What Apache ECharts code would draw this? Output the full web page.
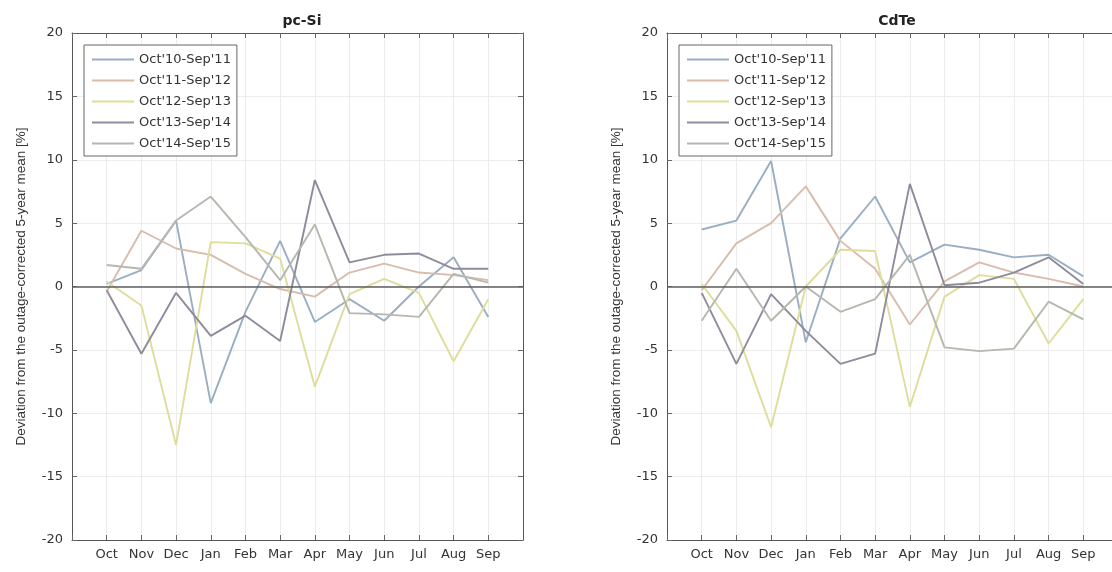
<!DOCTYPE html>
<html>
<head>
<meta charset="utf-8">
<script src="https://cdn.jsdelivr.net/npm/echarts@6/dist/echarts.min.js"></script>
<style>
  html, body { margin: 0; background: #fff; }
  #chart { width: 1112px; height: 572px; }
</style>
</head>
<body>
<div id="chart"></div>
<script>
// months on the x axis (positions 1..12, axis runs 0..13)
const months = ["Oct", "Nov", "Dec", "Jan", "Feb", "Mar", "Apr", "May", "Jun", "Jul", "Aug", "Sep"];
const seasons = ["Oct'10-Sep'11", "Oct'11-Sep'12", "Oct'12-Sep'13", "Oct'13-Sep'14", "Oct'14-Sep'15"];
const yTicks = [-20, -15, -10, -5, 0, 5, 10, 15, 20];

// pc-Si deviations [%]
const pcSi_10 = [0.2, 1.3, 5.2, -9.2, -2.0, 3.6, -2.8, -1.0, -2.7, 0.0, 2.3, -2.4];
const pcSi_11 = [-0.4, 4.4, 3.0, 2.5, 1.0, -0.2, -0.8, 1.1, 1.8, 1.1, 0.9, 0.5];
const pcSi_12 = [0.4, -1.5, -12.5, 3.5, 3.4, 2.2, -7.9, -0.6, 0.6, -0.5, -5.9, -1.0];
const pcSi_13 = [-0.3, -5.3, -0.5, -3.9, -2.3, -4.3, 8.4, 1.9, 2.5, 2.6, 1.4, 1.4];
const pcSi_14 = [1.7, 1.4, 5.2, 7.1, 3.9, 0.5, 4.9, -2.1, -2.2, -2.4, 1.0, 0.3];

// CdTe deviations [%]
const cdte_10 = [4.5, 5.2, 9.9, -4.4, 3.8, 7.1, 1.9, 3.3, 2.9, 2.3, 2.5, 0.8];
const cdte_11 = [-0.3, 3.4, 5.0, 7.9, 3.6, 1.4, -3.0, 0.4, 1.9, 1.1, 0.6, 0.0];
const cdte_12 = [0.2, -3.5, -11.1, 0.0, 2.9, 2.8, -9.5, -0.8, 0.9, 0.6, -4.5, -1.0];
const cdte_13 = [-0.5, -6.1, -0.6, -3.5, -6.1, -5.3, 8.1, 0.1, 0.3, 1.1, 2.3, 0.2];
const cdte_14 = [-2.7, 1.4, -2.7, 0.0, -2.0, -1.0, 2.5, -4.8, -5.1, -4.9, -1.2, -2.6];

const colors = ["#9aaec2", "#d8bcac", "#dedd9c", "#8f8b9c", "#b5b8ae"];
const font = "Liberation Sans, Arial, sans-serif";
const wideFont = "DejaVu Sans, sans-serif";

// the CdTe axes run past the right edge of the picture (451 px wide, 445 visible)
const cutMax = 13 * 445 / 451;

function pairs(arr) {
  return arr.map((v, i) => [i + 1, v]);
}

function makeSeries(list, gridIdx) {
  return list.map((arr, k) => {
    let s = {
      name: seasons[k],
      type: "line",
      xAxisIndex: gridIdx * 2,
      yAxisIndex: gridIdx * 2,
      data: pairs(arr),
      symbol: "none",
      lineStyle: { color: colors[k], width: 1.9 },
      itemStyle: { color: colors[k] },
      z: 3,
    };
    if (k === 0) {
      s.markLine = {
        silent: true,
        symbol: "none",
        label: { show: false },
        lineStyle: { color: "#5e5e5e", width: 1.6, type: "solid" },
        data: [{ yAxis: 0 }],
        z: 5,
      };
    }
    return s;
  });
}

function xAxes(gridIdx, max) {
  const base = {
    type: "value",
    gridIndex: gridIdx,
    min: 0,
    max: max,
    interval: 1,
    axisLine: { show: true, onZero: false, lineStyle: { color: "#555", width: 1 } },
    axisTick: { show: true, inside: true, length: 5, lineStyle: { color: "#666" } },
  };
  return [
    Object.assign({}, base, {
      position: "bottom",
      axisLabel: {
        color: "#333",
        fontFamily: wideFont,
        fontSize: 13,
        margin: 8,
        showMaxLabel: false,
        formatter: (v) => months[v - 1] || "",
      },
      splitLine: { show: true, lineStyle: { color: "#ececec", width: 1 } },
    }),
    Object.assign({}, base, {
      position: "top",
      axisLabel: { show: false },
      splitLine: { show: false },
    }),
  ];
}

function yAxes(gridIdx, showRight) {
  const base = {
    type: "value",
    gridIndex: gridIdx,
    min: yTicks[0],
    max: yTicks[yTicks.length - 1],
    interval: 5,
    axisLine: { show: true, onZero: false, lineStyle: { color: "#555", width: 1 } },
    axisTick: { show: true, inside: true, length: 5, lineStyle: { color: "#666" } },
  };
  return [
    Object.assign({}, base, {
      position: "left",
      name: "Deviation from the outage-corrected 5-year mean [%]",
      nameLocation: "middle",
      nameGap: 44,
      nameTextStyle: { color: "#333", fontFamily: font, fontSize: 13.5 },
      axisLabel: { color: "#333", fontFamily: wideFont, fontSize: 13, margin: 9 },
      splitLine: { show: true, lineStyle: { color: "#ececec", width: 1 } },
    }),
    Object.assign({}, base, {
      position: "right",
      show: showRight,
      axisLabel: { show: false },
      splitLine: { show: false },
    }),
  ];
}

function legendFor(left) {
  return {
    orient: "vertical",
    left: left,
    top: 45,
    data: seasons,
    icon: "rect",
    itemWidth: 42,
    itemHeight: 2,
    itemGap: 8,
    padding: [8, 6, 6, 8],
    borderColor: "#666",
    borderWidth: 1,
    backgroundColor: "#fff",
    selectedMode: false,
    textStyle: { color: "#333", fontFamily: wideFont, fontSize: 13 },
  };
}

const chart = echarts.init(document.getElementById("chart"));
chart.setOption({
  animation: false,
  backgroundColor: "#fff",
  title: [
    { text: "pc-Si", left: 297, top: 9, textAlign: "center",
      textStyle: { fontFamily: wideFont, fontSize: 14, fontWeight: "bold", color: "#222" } },
    { text: "CdTe", left: 892, top: 9, textAlign: "center",
      textStyle: { fontFamily: wideFont, fontSize: 14, fontWeight: "bold", color: "#222" } },
  ],
  legend: [legendFor(84), legendFor(679)],
  grid: [
    { left: 72, top: 33, width: 451, height: 507 },
    { left: 667, top: 33, right: 0, height: 507 },
  ],
  xAxis: xAxes(0, 13).concat(xAxes(1, cutMax)),
  yAxis: yAxes(0, true).concat(yAxes(1, false)),
  series: makeSeries([pcSi_10, pcSi_11, pcSi_12, pcSi_13, pcSi_14], 0)
    .concat(makeSeries([cdte_10, cdte_11, cdte_12, cdte_13, cdte_14], 1)),
});
</script>
</body>
</html>
